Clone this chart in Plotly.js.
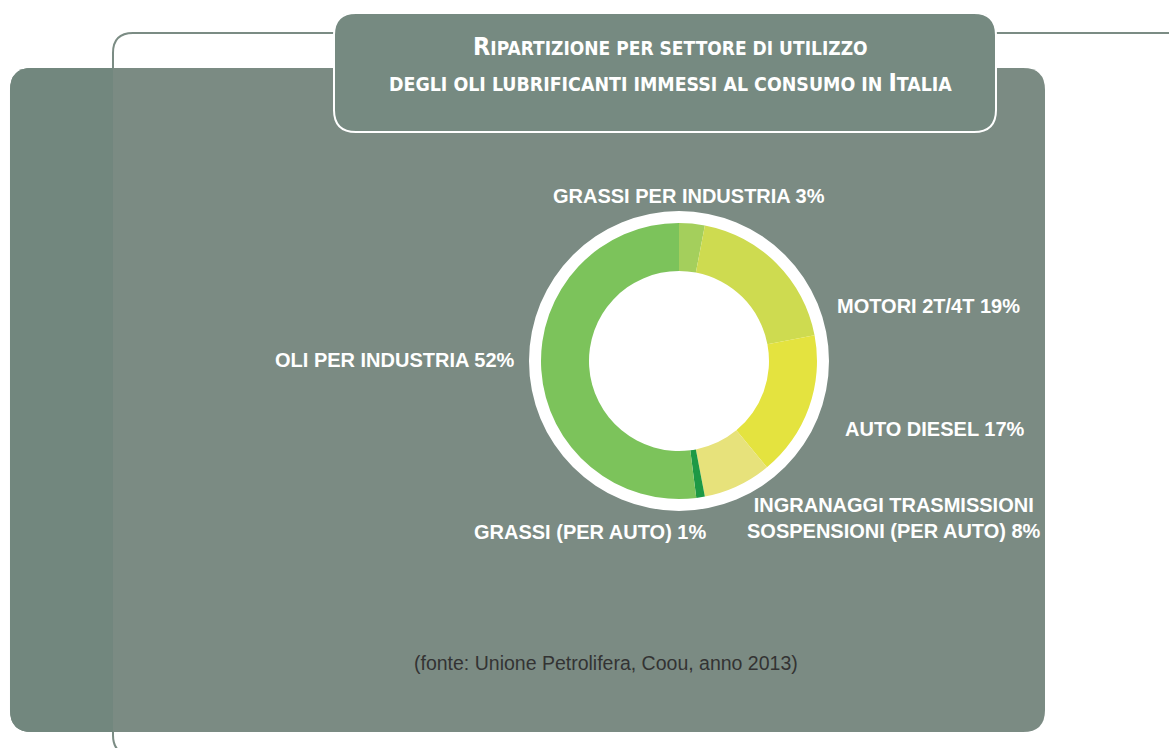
<!DOCTYPE html>
<html>
<head>
<meta charset="utf-8">
<script src="https://cdn.plot.ly/plotly-3.0.1.min.js"></script>
<style>html,body{margin:0;padding:0;background:#fff;}#chart{width:1169px;height:748px;}</style>
</head>
<body>
<div id="chart"></div>
<script>
// ---- data ----
const categories = [
  "GRASSI PER INDUSTRIA",
  "MOTORI 2T/4T",
  "AUTO DIESEL",
  "INGRANAGGI TRASMISSIONI<br>SOSPENSIONI (PER AUTO)",
  "GRASSI (PER AUTO)",
  "OLI PER INDUSTRIA"
];
const shares = [3, 19, 17, 8, 1, 52];
const sliceColors = ["#a4cf5c", "#cedb50", "#e4e33f", "#e7e27b", "#1d9945", "#7cc35b"];
const titleLine1 = "R<span style='font-size:19px'>IPARTIZIONE PER SETTORE DI UTILIZZO</span>";
const titleLine2 = "<span style='font-size:19.4px'>DEGLI OLI LUBRIFICANTI IMMESSI AL CONSUMO IN </span>I<span style='font-size:19.4px'>TALIA</span>";
const sourceText = "(fonte: Unione Petrolifera, Coou, anno 2013)";

// ---- layout helpers ----
const W = 1169, H = 748;
const X = px => (px / W).toFixed(5);
const Y = py => (1 - py / H).toFixed(5);
function roundRect(x0, y0, x1, y1, r) {
  return `M ${X(x0 + r)},${Y(y0)} L ${X(x1 - r)},${Y(y0)} Q ${X(x1)},${Y(y0)} ${X(x1)},${Y(y0 + r)} ` +
         `L ${X(x1)},${Y(y1 - r)} Q ${X(x1)},${Y(y1)} ${X(x1 - r)},${Y(y1)} ` +
         `L ${X(x0 + r)},${Y(y1)} Q ${X(x0)},${Y(y1)} ${X(x0)},${Y(y1 - r)} ` +
         `L ${X(x0)},${Y(y0 + r)} Q ${X(x0)},${Y(y0)} ${X(x0 + r)},${Y(y0)} Z`;
}
function leftRoundRect(x0, y0, x1, y1, r) {
  return `M ${X(x0 + r)},${Y(y0)} L ${X(x1)},${Y(y0)} L ${X(x1)},${Y(y1)} ` +
         `L ${X(x0 + r)},${Y(y1)} Q ${X(x0)},${Y(y1)} ${X(x0)},${Y(y1 - r)} ` +
         `L ${X(x0)},${Y(y0 + r)} Q ${X(x0)},${Y(y0)} ${X(x0 + r)},${Y(y0)} Z`;
}

const cx = 679, cy = 361, rRing = 138, rDisc = 150, rHole = 90;

const shapes = [
  // outline frame
  {type: "path", xref: "paper", yref: "paper", layer: "below",
   path: `M ${X(1180)},${Y(33)} L ${X(133)},${Y(33)} Q ${X(113)},${Y(33)} ${X(113)},${Y(53)} L ${X(113)},${Y(735)} Q ${X(113)},${Y(755)} ${X(133)},${Y(755)}`,
   line: {color: "#7b8c84", width: 2}},
  // main panel
  {type: "path", xref: "paper", yref: "paper", layer: "below",
   path: roundRect(10, 68, 1045, 732, 22), fillcolor: "#7b8b83", line: {width: 0}},
  // left darker strip
  {type: "path", xref: "paper", yref: "paper", layer: "below",
   path: leftRoundRect(10, 68, 113, 732, 22), fillcolor: "#72877e", line: {width: 0}},
  // title box
  {type: "path", xref: "paper", yref: "paper", layer: "below",
   path: roundRect(334, 13, 996, 132, 22), fillcolor: "#768a81", line: {color: "#ffffff", width: 2}},
  // white disc
  {type: "circle", xref: "paper", yref: "paper", layer: "below",
   x0: X(cx - rDisc), x1: X(cx + rDisc), y0: Y(cy + rDisc), y1: Y(cy - rDisc),
   fillcolor: "#ffffff", line: {width: 0}}
];

const labelFont = {family: "Liberation Sans, Arial, sans-serif", size: 20, color: "#ffffff", weight: "bold"};
// label anchor positions in the order of categories
const labelPos = [
  {x: 689, y: 196, xa: "center"},
  {x: 835, y: 306, xa: "left"},
  {x: 843, y: 429, xa: "left"},
  {x: 894, y: 518, xa: "center"},
  {x: 590, y: 532, xa: "center"},
  {x: 517, y: 360, xa: "right"}
];

const annotations = categories.map((c, i) => ({
  xref: "paper", yref: "paper", x: X(labelPos[i].x), y: Y(labelPos[i].y),
  xanchor: labelPos[i].xa, yanchor: "middle", align: "center", showarrow: false,
  text: c + " " + shares[i] + "%", font: labelFont
}));
const titleFont = {family: "Liberation Sans Narrow, DejaVu Sans Condensed, Arial Narrow, sans-serif", size: 25, color: "#ffffff", weight: "bold"};
annotations.push(
  {xref: "paper", yref: "paper", x: X(671), y: Y(47), xanchor: "center", yanchor: "middle", showarrow: false,
   text: titleLine1, font: titleFont},
  {xref: "paper", yref: "paper", x: X(671), y: Y(82), xanchor: "center", yanchor: "middle", showarrow: false,
   text: titleLine2, font: titleFont},
  {xref: "paper", yref: "paper", x: X(606), y: Y(663), xanchor: "center", yanchor: "middle", showarrow: false,
   text: sourceText, font: {family: "Liberation Sans, Arial, sans-serif", size: 19.5, color: "#333333"}}
);

const trace = {
  type: "pie",
  labels: categories,
  values: shares,
  sort: false,
  direction: "clockwise",
  rotation: 0,
  hole: rHole / rRing,
  textinfo: "none",
  hoverinfo: "label+percent",
  marker: {colors: sliceColors, line: {width: 0}},
  domain: {x: [X(cx - rRing), X(cx + rRing)].map(Number), y: [Y(cy + rRing), Y(cy - rRing)].map(Number)},
  showlegend: false
};

const layout = {
  width: W, height: H,
  margin: {l: 0, r: 0, t: 0, b: 0},
  paper_bgcolor: "#ffffff",
  plot_bgcolor: "#ffffff",
  showlegend: false,
  shapes: shapes,
  annotations: annotations
};

Plotly.newPlot("chart", [trace], layout, {displayModeBar: false, staticPlot: true});
</script>
</body>
</html>
